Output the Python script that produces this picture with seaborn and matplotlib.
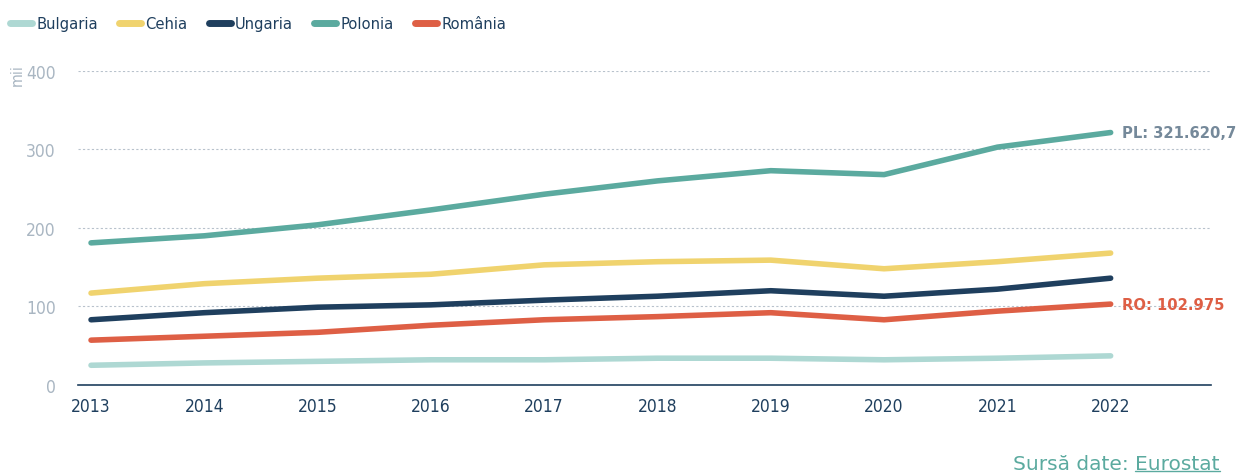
import matplotlib
matplotlib.use("Agg")
import matplotlib.pyplot as plt
import seaborn as sns
import pandas as pd
from matplotlib.lines import Line2D
from matplotlib.font_manager import FontProperties

years = [2013, 2014, 2015, 2016, 2017, 2018, 2019, 2020, 2021, 2022]
bulgaria = [25, 28, 30, 32, 32, 34, 34, 32, 34, 37]
cehia = [117, 129, 136, 141, 153, 157, 159, 148, 157, 168]
ungaria = [83, 92, 99, 102, 108, 113, 120, 113, 122, 136]
polonia = [181, 190, 204, 223, 243, 260, 273, 268, 303, 321.6207]
romania = [57, 62, 67, 76, 83, 87, 92, 83, 94, 102.975]

series_names = ["Bulgaria", "Cehia", "Ungaria", "Polonia", "România"]
colors = ["#AED8D3", "#F0D36E", "#1F3F5E", "#5BAA9F", "#DE5F45"]
yticks = [0, 100, 200, 300, 400]

rows = []
for name, vals in zip(series_names, [bulgaria, cehia, ungaria, polonia, romania]):
    for y, v in zip(years, vals):
        rows.append({"An": y, "Valoare": v, "Tara": name})
df = pd.DataFrame(rows)

sns.set_style("white")
plt.rcParams["font.family"] = ["DejaVu Sans"]

fig = plt.figure(figsize=(12.4, 4.77), dpi=100)
ax = fig.add_axes([0.0629, 0.191, 0.977 - 0.0629, 0.849 - 0.191])

sns.lineplot(data=df, x="An", y="Valoare", hue="Tara", hue_order=series_names,
             palette=colors, linewidth=4, ax=ax, legend=False,
             solid_capstyle="round")

ax.set_xlim(2012.885, 2022.89)
ax.set_ylim(0, 400)
ax.set_xticks(years)
ax.set_xticklabels([str(y) for y in years], color="#1F3F5E", fontsize=12.5,
                   fontstretch="condensed")
ax.set_yticks(yticks)
ax.set_yticklabels([str(t) for t in yticks], color="#A9B6C2", fontsize=12.5,
                   fontstretch="condensed")
ax.tick_params(axis="both", length=0)
ax.tick_params(axis="y", pad=16)
ax.tick_params(axis="x", pad=9)
ax.grid(axis="y", linestyle=(0, (2, 2)), color="#B8C2CC", linewidth=0.8)
for s in ["left", "right", "top"]:
    ax.spines[s].set_visible(False)
ax.spines["bottom"].set_color("#1F3F5E")
ax.spines["bottom"].set_linewidth(1.2)
ax.set_xlabel("")
ax.set_ylabel("")

fig.text(0.0137, 0.843, "mii", rotation=90, color="#A9B6C2", fontsize=11.5,
         ha="center", va="center", fontstretch="condensed")

ax.text(2022.1, polonia[-1], "PL: 321.620,7", color="#75899A", fontsize=10.6,
        fontweight="bold", va="center", ha="left")
ax.text(2022.1, romania[-1], "RO: 102.975", color="#DE5F45", fontsize=10.6,
        fontweight="bold", va="center", ha="left")

handles = [Line2D([0], [0], color=c, linewidth=5, solid_capstyle="round") for c in colors]
legprop = FontProperties(family="DejaVu Sans", size=11.8, stretch="condensed")
leg = fig.legend(handles, series_names, loc="center left", bbox_to_anchor=(0.008, 0.948),
                 ncol=5, frameon=False, prop=legprop,
                 handlelength=1.35, handletextpad=0.25, columnspacing=1.3,
                 borderaxespad=0, borderpad=0.0)
for t in leg.get_texts():
    t.set_color("#1F3F5E")

t1 = fig.text(0.9835, 0.006, "Eurostat", color="#5BAA9F", fontsize=14.5, ha="right", va="bottom")
fig.canvas.draw()
r = fig.canvas.get_renderer()
bb = t1.get_window_extent(r).transformed(fig.transFigure.inverted())
fig.text(bb.x0, 0.006, "Sursă date: ", color="#5BAA9F", fontsize=14.5, ha="right", va="bottom")
fig.add_artist(Line2D([bb.x0, bb.x1], [bb.y0 + 0.005, bb.y0 + 0.005],
                      color="#5BAA9F", linewidth=1.0, transform=fig.transFigure))

fig.savefig("out.png", dpi=100)
